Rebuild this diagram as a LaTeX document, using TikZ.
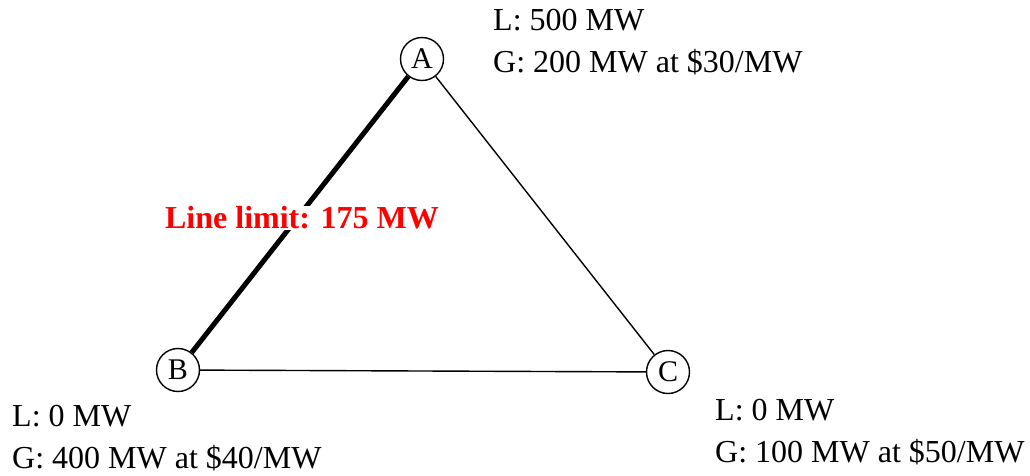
\documentclass[tikz,border=0pt]{standalone}
\usepackage{fontspec}
\setmainfont{Liberation Serif}
\usepackage{xcolor}
\usetikzlibrary{positioning}

\begin{document}
\begin{tikzpicture}[
        x=1pt, y=-1pt,
        bus/.style={
          draw,
          circle,
          line width=1.4pt,
          minimum size=43pt,
          inner sep=0pt,
          font=\fontsize{30}{34}\selectfont
        },
        info/.style={
          anchor=north west,
          inner sep=0pt,
          align=left,
          font=\fontsize{32}{42}\selectfont
        },
        thinline/.style={line width=1.4pt},
        limitline/.style={line width=5pt}
      ]

      \useasboundingbox (0,0) rectangle (1030,475);

      \node[bus] (busA) at (422,59) {A};
      \node[bus] (busB) at (178,370) {B};
      \node[bus] (busC) at (668,372) {C};

      \draw[limitline] (busA) -- (busB);
      \draw[thinline] (busA) -- (busC);
      \draw[thinline] (busB) -- (busC);

      \node[info] (infoA) at (493,9) {L: 500 MW\\G: 200 MW at \$30/MW};
      \node[info] (infoB) at (12,405) {L: 0 MW\\G: 400 MW at \$40/MW};
      \node[info] (infoC) at (715,399) {L: 0 MW\\G: 100 MW at \$50/MW};

      \node[font=\fontsize{32}{38}\selectfont\bfseries, text=red, fill=white, inner sep=1pt] (limit) at (302,218) {Line limit: 175 MW};

      \end{tikzpicture}
\end{document}
